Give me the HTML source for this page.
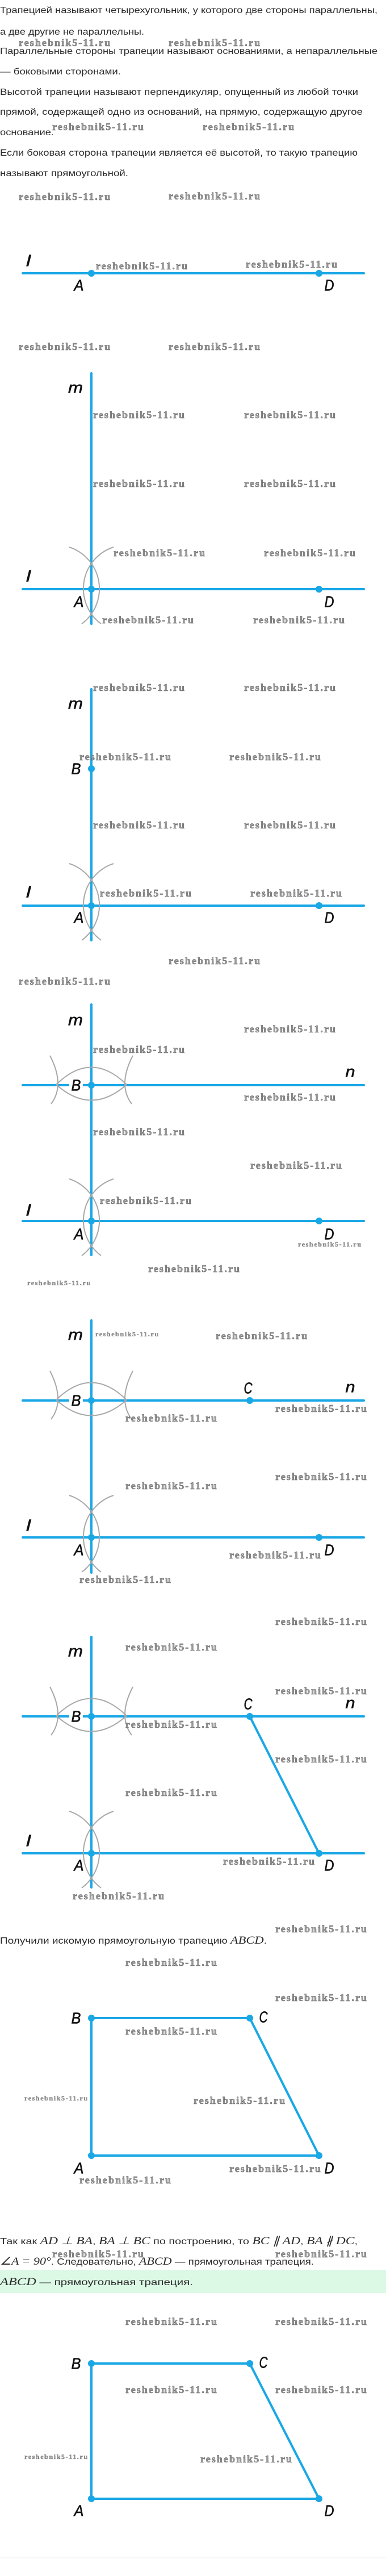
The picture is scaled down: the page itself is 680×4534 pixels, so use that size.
<!DOCTYPE html>
<html><head><meta charset="utf-8"><style>
html,body{margin:0;padding:0;background:#fff;}
svg{display:block;}
.t{font-family:"Liberation Sans","Noto Sans CJK SC",sans-serif;font-size:16px;fill:#2a2a2a;}
.mt{font-family:"Liberation Serif",serif;font-style:italic;font-size:19px;}
.w{font-family:"Liberation Serif",serif;font-weight:bold;font-size:18px;fill:#9a9a9a;stroke:#555;stroke-width:0.5px;dominant-baseline:central;}
.ws{font-family:"Liberation Serif",serif;font-weight:bold;font-size:12px;fill:#999;stroke:#555;stroke-width:0.3px;dominant-baseline:central;}
.L{font-family:"Liberation Sans",sans-serif;font-style:italic;font-size:28px;fill:#111;stroke:#111;stroke-width:0.6px;text-anchor:middle;dominant-baseline:central;}
.bl{stroke:#19a7e6;stroke-width:4;stroke-linecap:round;fill:none;}
.ar{stroke:#a8a8a8;stroke-width:2;fill:none;}
.d{fill:#19a7e6;}
</style></head><body>
<svg width="680" height="4534" viewBox="0 0 680 4534" xmlns="http://www.w3.org/2000/svg">
<defs>
<g id="aarcs">
<path class="ar" d="M -39 -74 A 77 77 0 0 1 -17 61"/>
<path class="ar" d="M 39 -74 A 77 77 0 0 0 17 61"/>
</g>
<g id="barcs">
<path class="ar" d="M -62 -1 Q 0 -62 62 -1"/>
<path class="ar" d="M -62 -1 Q 0 54 62 -1"/>
<path class="ar" d="M -73 -52 Q -46 0 -71 33"/>
<path class="ar" d="M 73 -52 Q 46 0 71 33"/>
</g>
</defs>

<text class="t" x="0" y="23" textLength="665" lengthAdjust="spacingAndGlyphs">Трапецией называют четырехугольник, у которого две стороны параллельны,</text>
<text class="t" x="0" y="61" textLength="254" lengthAdjust="spacingAndGlyphs">а две другие не параллельны.</text>
<text class="t" x="0" y="95" textLength="665" lengthAdjust="spacingAndGlyphs">Параллельные стороны трапеции называют основаниями, а непараллельные</text>
<text class="t" x="0" y="131" textLength="213" lengthAdjust="spacingAndGlyphs">— боковыми сторонами.</text>
<text class="t" x="0" y="167" textLength="631" lengthAdjust="spacingAndGlyphs">Высотой трапеции называют перпендикуляр, опущенный из любой точки</text>
<text class="t" x="0" y="202" textLength="639" lengthAdjust="spacingAndGlyphs">прямой, содержащей одно из оснований, на прямую, содержащую другое</text>
<text class="t" x="0" y="238" textLength="95" lengthAdjust="spacingAndGlyphs">основание.</text>
<text class="t" x="0" y="274" textLength="630" lengthAdjust="spacingAndGlyphs">Если боковая сторона трапеции является её высотой, то такую трапецию</text>
<text class="t" x="0" y="310" textLength="226" lengthAdjust="spacingAndGlyphs">называют прямоугольной.</text>

<line class="bl" x1="40" y1="481" x2="641" y2="481"/>
<circle class="d" cx="161" cy="481" r="6"/><circle class="d" cx="562" cy="481" r="6"/>
<text class="L" x="50" y="459" textLength="8" lengthAdjust="spacingAndGlyphs">l</text>
<text class="L" x="139" y="502" textLength="17" lengthAdjust="spacingAndGlyphs">A</text>
<text class="L" x="580" y="502" textLength="17" lengthAdjust="spacingAndGlyphs">D</text>

<line class="bl" x1="161" y1="657" x2="161" y2="1098"/>
<line class="bl" x1="40" y1="1037" x2="641" y2="1037"/>
<use href="#aarcs" x="161" y="1037"/>
<circle class="d" cx="161" cy="1037" r="6"/><circle class="d" cx="562" cy="1037" r="6"/>
<text class="L" x="133" y="682" textLength="26" lengthAdjust="spacingAndGlyphs">m</text>
<text class="L" x="50" y="1014" textLength="8" lengthAdjust="spacingAndGlyphs">l</text>
<text class="L" x="139" y="1059" textLength="17" lengthAdjust="spacingAndGlyphs">A</text>
<text class="L" x="580" y="1059" textLength="17" lengthAdjust="spacingAndGlyphs">D</text>

<line class="bl" x1="161" y1="1213" x2="161" y2="1655"/>
<line class="bl" x1="40" y1="1594" x2="641" y2="1594"/>
<use href="#aarcs" x="161" y="1594"/>
<circle class="d" cx="161" cy="1594" r="6"/><circle class="d" cx="562" cy="1594" r="6"/>
<circle class="d" cx="161" cy="1353" r="6"/>
<text class="L" x="133" y="1238" textLength="26" lengthAdjust="spacingAndGlyphs">m</text>
<text class="L" x="134" y="1353" textLength="17" lengthAdjust="spacingAndGlyphs">B</text>
<text class="L" x="50" y="1570" textLength="8" lengthAdjust="spacingAndGlyphs">l</text>
<text class="L" x="139" y="1615" textLength="17" lengthAdjust="spacingAndGlyphs">A</text>
<text class="L" x="580" y="1615" textLength="17" lengthAdjust="spacingAndGlyphs">D</text>

<line class="bl" x1="161" y1="1768" x2="161" y2="2209"/>
<line class="bl" x1="40" y1="1910" x2="641" y2="1910"/>
<line class="bl" x1="40" y1="2149" x2="641" y2="2149"/>
<use href="#barcs" x="161" y="1910"/>
<use href="#aarcs" x="161" y="2149"/>
<rect x="122" y="1896" width="24" height="28" fill="#fff"/>
<circle class="d" cx="161" cy="1910" r="6"/>
<circle class="d" cx="161" cy="2149" r="6"/><circle class="d" cx="562" cy="2149" r="6"/>
<text class="L" x="133" y="1795" textLength="26" lengthAdjust="spacingAndGlyphs">m</text>
<text class="L" x="134" y="1910" textLength="17" lengthAdjust="spacingAndGlyphs">B</text>
<text class="L" x="617" y="1886" textLength="17" lengthAdjust="spacingAndGlyphs">n</text>
<text class="L" x="50" y="2130" textLength="8" lengthAdjust="spacingAndGlyphs">l</text>
<text class="L" x="139" y="2172" textLength="17" lengthAdjust="spacingAndGlyphs">A</text>
<text class="L" x="580" y="2172" textLength="17" lengthAdjust="spacingAndGlyphs">D</text>

<line class="bl" x1="161" y1="2324" x2="161" y2="2768"/>
<line class="bl" x1="40" y1="2465" x2="641" y2="2465"/>
<line class="bl" x1="40" y1="2706" x2="641" y2="2706"/>
<use href="#barcs" x="161" y="2465"/>
<use href="#aarcs" x="161" y="2706"/>
<rect x="122" y="2451" width="24" height="28" fill="#fff"/>
<circle class="d" cx="161" cy="2465" r="6"/><circle class="d" cx="440" cy="2465" r="6"/>
<circle class="d" cx="161" cy="2706" r="6"/><circle class="d" cx="562" cy="2706" r="6"/>
<text class="L" x="133" y="2349" textLength="26" lengthAdjust="spacingAndGlyphs">m</text>
<text class="L" x="134" y="2465" textLength="17" lengthAdjust="spacingAndGlyphs">B</text>
<text class="L" x="437" y="2443" textLength="15" lengthAdjust="spacingAndGlyphs">C</text>
<text class="L" x="617" y="2441" textLength="17" lengthAdjust="spacingAndGlyphs">n</text>
<text class="L" x="50" y="2685" textLength="8" lengthAdjust="spacingAndGlyphs">l</text>
<text class="L" x="139" y="2728" textLength="17" lengthAdjust="spacingAndGlyphs">A</text>
<text class="L" x="580" y="2728" textLength="17" lengthAdjust="spacingAndGlyphs">D</text>

<line class="bl" x1="161" y1="2881" x2="161" y2="3322"/>
<line class="bl" x1="40" y1="3021" x2="641" y2="3021"/>
<line class="bl" x1="40" y1="3262" x2="641" y2="3262"/>
<line class="bl" x1="440" y1="3021" x2="562" y2="3262"/>
<use href="#barcs" x="161" y="3021"/>
<use href="#aarcs" x="161" y="3262"/>
<rect x="122" y="3007" width="24" height="28" fill="#fff"/>
<circle class="d" cx="161" cy="3021" r="6"/><circle class="d" cx="440" cy="3021" r="6"/>
<circle class="d" cx="161" cy="3262" r="6"/><circle class="d" cx="562" cy="3262" r="6"/>
<text class="L" x="133" y="2906" textLength="26" lengthAdjust="spacingAndGlyphs">m</text>
<text class="L" x="134" y="3021" textLength="17" lengthAdjust="spacingAndGlyphs">B</text>
<text class="L" x="437" y="2999" textLength="15" lengthAdjust="spacingAndGlyphs">C</text>
<text class="L" x="617" y="2997" textLength="17" lengthAdjust="spacingAndGlyphs">n</text>
<text class="L" x="50" y="3240" textLength="8" lengthAdjust="spacingAndGlyphs">l</text>
<text class="L" x="139" y="3283" textLength="17" lengthAdjust="spacingAndGlyphs">A</text>
<text class="L" x="580" y="3283" textLength="17" lengthAdjust="spacingAndGlyphs">D</text>

<text class="t" x="0" y="3421" textLength="470" lengthAdjust="spacingAndGlyphs">Получили искомую прямоугольную трапецию <tspan class="mt">ABCD</tspan>.</text>

<path class="bl" d="M161 3552 L440 3552 L562 3794 L161 3794 Z" stroke-linejoin="round"/>
<circle class="d" cx="161" cy="3552" r="6"/><circle class="d" cx="440" cy="3552" r="6"/>
<circle class="d" cx="161" cy="3794" r="6"/><circle class="d" cx="562" cy="3794" r="6"/>
<text class="L" x="134" y="3552" textLength="17" lengthAdjust="spacingAndGlyphs">B</text>
<text class="L" x="464" y="3550" textLength="15" lengthAdjust="spacingAndGlyphs">C</text>
<text class="L" x="139" y="3816" textLength="17" lengthAdjust="spacingAndGlyphs">A</text>
<text class="L" x="580" y="3816" textLength="17" lengthAdjust="spacingAndGlyphs">D</text>

<text class="t" x="0" y="3950" textLength="630" lengthAdjust="spacingAndGlyphs">Так как <tspan class="mt">AD ⊥ BA</tspan>, <tspan class="mt">BA ⊥ BC</tspan> по построению, то <tspan class="mt">BC ∥ AD</tspan>, <tspan class="mt">BA ∦ DC</tspan>,</text>
<text class="t" x="0" y="3986" textLength="553" lengthAdjust="spacingAndGlyphs"><tspan class="mt">∠A = 90°</tspan>. Следовательно, <tspan class="mt">ABCD</tspan> — прямоугольная трапеция.</text>
<rect x="0" y="3995" width="680" height="41" fill="#dcf9e6"/>
<text class="t" x="0" y="4022" textLength="340" lengthAdjust="spacingAndGlyphs"><tspan class="mt">ABCD</tspan> — прямоугольная трапеция.</text>

<path class="bl" d="M161 4160 L440 4160 L562 4398 L161 4398 Z" stroke-linejoin="round"/>
<circle class="d" cx="161" cy="4160" r="6"/><circle class="d" cx="440" cy="4160" r="6"/>
<circle class="d" cx="161" cy="4398" r="6"/><circle class="d" cx="562" cy="4398" r="6"/>
<text class="L" x="134" y="4160" textLength="17" lengthAdjust="spacingAndGlyphs">B</text>
<text class="L" x="464" y="4158" textLength="15" lengthAdjust="spacingAndGlyphs">C</text>
<text class="L" x="139" y="4419" textLength="17" lengthAdjust="spacingAndGlyphs">A</text>
<text class="L" x="580" y="4419" textLength="17" lengthAdjust="spacingAndGlyphs">D</text>
<line x1="0" y1="4502" x2="680" y2="4502" stroke="#f0f0f0" stroke-width="1"/>

<g>
<text class="w" x="33" y="75" textLength="161">reshebnik5-11.ru</text>
<text class="w" x="297" y="75" textLength="161">reshebnik5-11.ru</text>
<text class="w" x="92" y="223" textLength="161">reshebnik5-11.ru</text>
<text class="w" x="357" y="223" textLength="161">reshebnik5-11.ru</text>
<text class="w" x="33" y="346" textLength="161">reshebnik5-11.ru</text>
<text class="w" x="297" y="345" textLength="161">reshebnik5-11.ru</text>
<text class="w" x="169" y="468" textLength="161">reshebnik5-11.ru</text>
<text class="w" x="433" y="465" textLength="161">reshebnik5-11.ru</text>

<text class="w" x="33" y="610" textLength="161">reshebnik5-11.ru</text>
<text class="w" x="297" y="610" textLength="161">reshebnik5-11.ru</text>
<text class="w" x="164" y="730" textLength="161">reshebnik5-11.ru</text>
<text class="w" x="430" y="730" textLength="161">reshebnik5-11.ru</text>
<text class="w" x="164" y="851" textLength="161">reshebnik5-11.ru</text>
<text class="w" x="430" y="851" textLength="161">reshebnik5-11.ru</text>
<text class="w" x="200" y="973" textLength="161">reshebnik5-11.ru</text>
<text class="w" x="465" y="973" textLength="161">reshebnik5-11.ru</text>
<text class="w" x="180" y="1091" textLength="161">reshebnik5-11.ru</text>
<text class="w" x="446" y="1091" textLength="161">reshebnik5-11.ru</text>

<text class="w" x="164" y="1210" textLength="161">reshebnik5-11.ru</text>
<text class="w" x="430" y="1210" textLength="161">reshebnik5-11.ru</text>
<text class="w" x="140" y="1332" textLength="161">reshebnik5-11.ru</text>
<text class="w" x="404" y="1332" textLength="161">reshebnik5-11.ru</text>
<text class="w" x="164" y="1452" textLength="161">reshebnik5-11.ru</text>
<text class="w" x="430" y="1452" textLength="161">reshebnik5-11.ru</text>
<text class="w" x="176" y="1572" textLength="161">reshebnik5-11.ru</text>
<text class="w" x="441" y="1572" textLength="161">reshebnik5-11.ru</text>

<text class="w" x="297" y="1691" textLength="161">reshebnik5-11.ru</text>
<text class="w" x="33" y="1727" textLength="161">reshebnik5-11.ru</text>
<text class="w" x="430" y="1811" textLength="161">reshebnik5-11.ru</text>
<text class="w" x="164" y="1847" textLength="161">reshebnik5-11.ru</text>
<text class="w" x="430" y="1931" textLength="161">reshebnik5-11.ru</text>
<text class="w" x="164" y="1992" textLength="161">reshebnik5-11.ru</text>
<text class="w" x="441" y="2051" textLength="161">reshebnik5-11.ru</text>
<text class="w" x="176" y="2113" textLength="161">reshebnik5-11.ru</text>
<text class="ws" x="525" y="2190" textLength="111">reshebnik5-11.ru</text>
<text class="w" x="261" y="2233" textLength="161">reshebnik5-11.ru</text>

<text class="ws" x="48" y="2258" textLength="111">reshebnik5-11.ru</text>
<text class="ws" x="168" y="2348" textLength="111">reshebnik5-11.ru</text>
<text class="w" x="380" y="2351" textLength="161">reshebnik5-11.ru</text>
<text class="w" x="485" y="2479" textLength="161">reshebnik5-11.ru</text>
<text class="w" x="221" y="2496" textLength="161">reshebnik5-11.ru</text>
<text class="w" x="485" y="2599" textLength="161">reshebnik5-11.ru</text>
<text class="w" x="221" y="2615" textLength="161">reshebnik5-11.ru</text>
<text class="w" x="404" y="2737" textLength="161">reshebnik5-11.ru</text>
<text class="w" x="140" y="2780" textLength="161">reshebnik5-11.ru</text>

<text class="w" x="485" y="2854" textLength="161">reshebnik5-11.ru</text>
<text class="w" x="221" y="2899" textLength="161">reshebnik5-11.ru</text>
<text class="w" x="485" y="2976" textLength="161">reshebnik5-11.ru</text>
<text class="w" x="221" y="3035" textLength="161">reshebnik5-11.ru</text>
<text class="w" x="485" y="3096" textLength="161">reshebnik5-11.ru</text>
<text class="w" x="221" y="3155" textLength="161">reshebnik5-11.ru</text>
<text class="w" x="393" y="3276" textLength="161">reshebnik5-11.ru</text>
<text class="w" x="128" y="3337" textLength="161">reshebnik5-11.ru</text>

<text class="w" x="485" y="3395" textLength="161">reshebnik5-11.ru</text>
<text class="w" x="221" y="3454" textLength="161">reshebnik5-11.ru</text>
<text class="w" x="485" y="3516" textLength="161">reshebnik5-11.ru</text>
<text class="w" x="221" y="3575" textLength="161">reshebnik5-11.ru</text>
<text class="ws" x="43" y="3693" textLength="111">reshebnik5-11.ru</text>
<text class="w" x="341" y="3697" textLength="161">reshebnik5-11.ru</text>
<text class="w" x="404" y="3817" textLength="161">reshebnik5-11.ru</text>
<text class="w" x="140" y="3837" textLength="161">reshebnik5-11.ru</text>

<text class="w" x="92" y="3967" textLength="161">reshebnik5-11.ru</text>
<text class="w" x="485" y="3967" textLength="161">reshebnik5-11.ru</text>
<text class="w" x="221" y="4086" textLength="161">reshebnik5-11.ru</text>
<text class="w" x="485" y="4086" textLength="161">reshebnik5-11.ru</text>
<text class="w" x="221" y="4206" textLength="161">reshebnik5-11.ru</text>
<text class="w" x="485" y="4206" textLength="161">reshebnik5-11.ru</text>
<text class="ws" x="43" y="4324" textLength="111">reshebnik5-11.ru</text>
<text class="w" x="353" y="4328" textLength="161">reshebnik5-11.ru</text>
</g>
</svg>
</body></html>
